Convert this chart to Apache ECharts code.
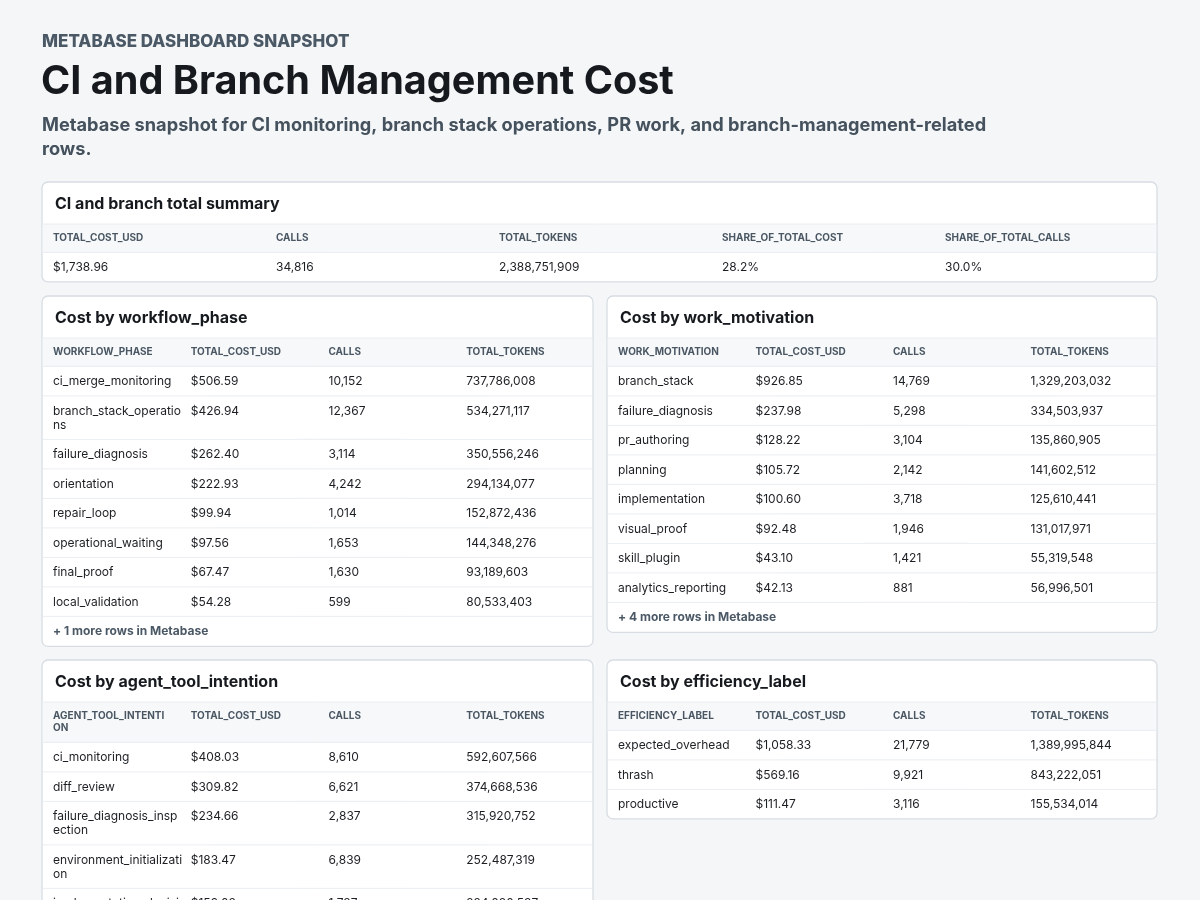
<!DOCTYPE html>
<html><head><meta charset="utf-8">
<script src="https://cdn.jsdelivr.net/npm/echarts@6/dist/echarts.min.js"></script>
<style>html,body{margin:0;padding:0;background:#f4f6f8}#c{width:1200px;height:900px}</style>
</head><body><div id="c"></div><script>
// ---------- data ----------
const eyebrowText = 'METABASE DASHBOARD SNAPSHOT';
const pageTitle = 'CI and Branch Management Cost';
const pageSubtitle = 'Metabase snapshot for CI monitoring, branch stack operations, PR work, and branch-management-related rows.';

const summaryTitle = 'CI and branch total summary';
const summaryColumns = ['TOTAL_COST_USD', 'CALLS', 'TOTAL_TOKENS', 'SHARE_OF_TOTAL_COST', 'SHARE_OF_TOTAL_CALLS'];
const summaryCost = 1738.96;
const summaryCalls = 34816;
const summaryTokens = 2388751909;
const summaryShareCost = 0.282;
const summaryShareCalls = 0.300;

const metricColumns = ['TOTAL_COST_USD', 'CALLS', 'TOTAL_TOKENS'];

const phaseTitle = 'Cost by workflow_phase';
const phaseDim = 'WORKFLOW_PHASE';
const phaseNames = ['ci_merge_monitoring', 'branch_stack_operations', 'failure_diagnosis', 'orientation', 'repair_loop', 'operational_waiting', 'final_proof', 'local_validation'];
const phaseCost = [506.59, 426.94, 262.40, 222.93, 99.94, 97.56, 67.47, 54.28];
const phaseCalls = [10152, 12367, 3114, 4242, 1014, 1653, 1630, 599];
const phaseTokens = [737786008, 534271117, 350556246, 294134077, 152872436, 144348276, 93189603, 80533403];
const phaseMoreRows = 1;

const motivationTitle = 'Cost by work_motivation';
const motivationDim = 'WORK_MOTIVATION';
const motivationNames = ['branch_stack', 'failure_diagnosis', 'pr_authoring', 'planning', 'implementation', 'visual_proof', 'skill_plugin', 'analytics_reporting'];
const motivationCost = [926.85, 237.98, 128.22, 105.72, 100.60, 92.48, 43.10, 42.13];
const motivationCalls = [14769, 5298, 3104, 2142, 3718, 1946, 1421, 881];
const motivationTokens = [1329203032, 334503937, 135860905, 141602512, 125610441, 131017971, 55319548, 56996501];
const motivationMoreRows = 4;

const intentionTitle = 'Cost by agent_tool_intention';
const intentionDim = 'AGENT_TOOL_INTENTION';
const intentionNames = ['ci_monitoring', 'diff_review', 'failure_diagnosis_inspection', 'environment_initialization', 'implementation_decision'];
const intentionCost = [408.03, 309.82, 234.66, 183.47, 159.03];
const intentionCalls = [8610, 6621, 2837, 6839, 1737];
const intentionTokens = [592607566, 374668536, 315920752, 252487319, 224080537];
const intentionMoreRows = 0;

const efficiencyTitle = 'Cost by efficiency_label';
const efficiencyDim = 'EFFICIENCY_LABEL';
const efficiencyNames = ['expected_overhead', 'thrash', 'productive'];
const efficiencyCost = [1058.33, 569.16, 111.47];
const efficiencyCalls = [21779, 9921, 3116];
const efficiencyTokens = [1389995844, 843222051, 155534014];
const efficiencyMoreRows = 0;

// ---------- formatting ----------
const fmtUsd = v => '$' + v.toLocaleString('en-US', {minimumFractionDigits: 2, maximumFractionDigits: 2});
const fmtInt = v => v.toLocaleString('en-US');
const fmtPct = v => (v * 100).toFixed(1) + '%';

// ---------- style ----------
const FONT = 'Inter, "Noto Sans", "DejaVu Sans", sans-serif';
const C = {
  bg: '#f4f6f8', card: '#ffffff', border: '#d7dde3', band: '#f6f8fa',
  sep: '#eaeef2', text: '#1c1f23', head: '#4a5763', muted: '#4b5865'
};
const ROW_H = 29.5, LINE_H = 14, HEAD_H = 28.4, HEAD_LINE = 12, TITLE_H = 42, FOOT_H = 30;
const CELL_PAD = 11;
const DATA_FS = 12, HEAD_FS = 10;

const mctx = document.createElement('canvas').getContext('2d');
function measure(t, size, weight) { mctx.font = weight + ' ' + size + 'px ' + FONT; return mctx.measureText(t).width; }
function breakAll(t, maxW, size, weight) {
  const lines = []; let cur = '';
  for (const ch of t) {
    if (cur && measure(cur + ch, size, weight) > maxW) { lines.push(cur); cur = ch; } else cur += ch;
  }
  if (cur) lines.push(cur);
  return lines;
}
function wrapWords(t, maxW, size, weight) {
  const words = t.split(' '); const lines = []; let cur = '';
  for (const w of words) {
    const test = cur ? cur + ' ' + w : w;
    if (cur && measure(test, size, weight) > maxW) { lines.push(cur); cur = w; } else cur = test;
  }
  if (cur) lines.push(cur);
  return lines;
}

const els = [];
function txt(x, y, text, size, weight, fill, lh) {
  els.push({type: 'text', x, y, silent: true, style: {text, fontSize: size, fontWeight: weight, fontFamily: FONT, fill, lineHeight: lh || size * 1.2, verticalAlign: 'top', align: 'left'}});
}
function hline(x1, x2, y, color) {
  els.push({type: 'line', silent: true, shape: {x1, y1: y, x2, y2: y}, style: {stroke: color, lineWidth: 1}});
}

// Header block
txt(42, 32, eyebrowText, 17, 800, C.muted, 20);
txt(41, 58, pageTitle, 39.6, 700, '#16191d', 48);
const subLines = wrapWords(pageSubtitle, 965, 18.2, 700);
txt(42, 114, subLines.join('\n'), 18.2, 700, '#45525e', 24);

// Generic table card
function card(x, y, w, title, columns, rows, moreRows, clipBottom) {
  const colW = w / columns.length;
  const headLines = columns.map(c => breakAll(c, colW - 2 * CELL_PAD, HEAD_FS, 700));
  const headH = HEAD_H + HEAD_LINE * (Math.max(...headLines.map(l => l.length)) - 1);
  const rowLines = rows.map(r => r.map(v => breakAll(v, colW - CELL_PAD + 4, DATA_FS, 400)));
  const rowHs = rowLines.map(r => ROW_H + LINE_H * (Math.max(...r.map(l => l.length)) - 1));
  let h = TITLE_H + headH + rowHs.reduce((a, b) => a + b, 0) + (moreRows ? FOOT_H : 0);
  els.push({type: 'rect', silent: true, shape: {x, y, width: w, height: clipBottom ? h + 40 : h, r: 6}, style: {fill: C.card, stroke: C.border, lineWidth: 1.3}});
  txt(x + 13, y + 12, title, 16, 700, '#16191d', 20);
  const hy = y + TITLE_H;
  els.push({type: 'rect', silent: true, shape: {x: x + 0.7, y: hy, width: w - 1.4, height: headH}, style: {fill: C.band}});
  hline(x + 0.7, x + w - 0.7, hy, C.sep);
  hline(x + 0.7, x + w - 0.7, hy + headH, C.sep);
  headLines.forEach((l, i) => txt(x + i * colW + CELL_PAD, hy + 8, l.join('\n'), HEAD_FS, 700, C.head, HEAD_LINE));
  let ry = hy + headH;
  rowLines.forEach((r, ri) => {
    r.forEach((l, ci) => txt(x + ci * colW + CELL_PAD, ry + 15.4 - LINE_H / 2, l.join('\n'), DATA_FS, 400, C.text, LINE_H));
    ry += rowHs[ri];
    if (ri < rowLines.length - 1 || moreRows) hline(x + 0.7, x + w - 0.7, ry, C.sep);
  });
  if (moreRows) txt(x + CELL_PAD, ry + 15 - 8, '+ ' + moreRows + ' more rows in Metabase', 12, 700, C.muted, 16);
}

function metricRows(names, cost, calls, tokens) {
  return names.map((n, i) => [n, fmtUsd(cost[i]), fmtInt(calls[i]), fmtInt(tokens[i])]);
}

card(42, 182, 1115, summaryTitle, summaryColumns,
  [[fmtUsd(summaryCost), fmtInt(summaryCalls), fmtInt(summaryTokens), fmtPct(summaryShareCost), fmtPct(summaryShareCalls)]], 0);
card(42, 296, 551, phaseTitle, [phaseDim].concat(metricColumns), metricRows(phaseNames, phaseCost, phaseCalls, phaseTokens), phaseMoreRows);
card(607, 296, 550, motivationTitle, [motivationDim].concat(metricColumns), metricRows(motivationNames, motivationCost, motivationCalls, motivationTokens), motivationMoreRows);
card(42, 660, 551, intentionTitle, [intentionDim].concat(metricColumns), metricRows(intentionNames, intentionCost, intentionCalls, intentionTokens), intentionMoreRows, true);
card(607, 660, 550, efficiencyTitle, [efficiencyDim].concat(metricColumns), metricRows(efficiencyNames, efficiencyCost, efficiencyCalls, efficiencyTokens), efficiencyMoreRows);

const chart = echarts.init(document.getElementById('c'), null, {renderer: 'canvas'});
chart.setOption({backgroundColor: C.bg, animation: false, graphic: {elements: els}});
</script></body></html>
